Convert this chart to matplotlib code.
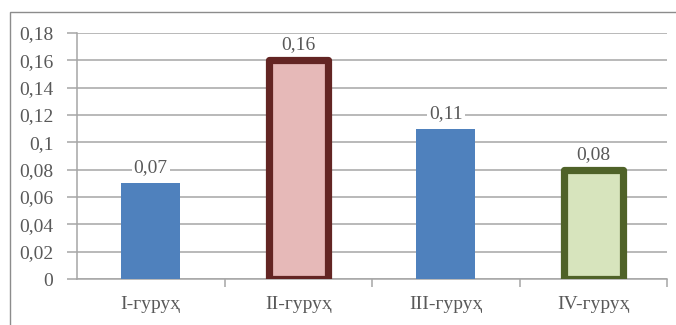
import matplotlib.pyplot as plt
from matplotlib.patches import Rectangle
from matplotlib.ticker import FuncFormatter

# Data
groups = ['I-гуруҳ', 'II-гуруҳ', 'III-гуруҳ', 'IV-гуруҳ']
values = [0.07, 0.16, 0.11, 0.08]
face_colors = ['#4F81BD', '#E6B9B8', '#4F81BD', '#D7E4BD']
edge_colors = ['#4F81BD', '#632523', '#4F81BD', '#4F6228']
edge_widths = [0, 5.2, 0, 5.2]
yticks = [0, 0.02, 0.04, 0.06, 0.08, 0.1, 0.12, 0.14, 0.16, 0.18]

text_color = '#595959'
grid_color = '#A6A6A6'

plt.rcParams['font.family'] = ['Liberation Serif', 'DejaVu Serif']

fig = plt.figure(figsize=(6.76, 3.25), dpi=100)
# outer chart border
fig.patches.append(Rectangle((10 / 676, -0.1), 1.0, 1.1 - 12 / 325,
                             transform=fig.transFigure, fill=False,
                             edgecolor='#8C8C8C', linewidth=1.0))

ax = fig.add_axes([77 / 676, 1 - 279 / 325, 590 / 676, 246 / 325])

x = range(len(groups))
for i, v in enumerate(values):
    ax.bar(i, v, width=0.4, color=face_colors[i], edgecolor=edge_colors[i],
           linewidth=edge_widths[i], zorder=3, joinstyle='round')
    label = f'{v:.2f}'.replace('.', ',')
    ax.annotate(label, (i, v), xytext=(0, 5), textcoords='offset points',
                ha='center', va='bottom', fontsize=14, color=text_color,
                bbox=dict(boxstyle='square,pad=0.1', fc='white', ec='none'),
                zorder=4)

ax.set_xlim(-0.5, len(groups) - 0.5)
ax.set_ylim(0, 0.18)
ax.set_yticks(yticks)
ax.yaxis.set_major_formatter(FuncFormatter(
    lambda v, p: '0' if v == 0 else f'{v:.2f}'.rstrip('0').replace('.', ',')))
ax.yaxis.grid(True, color=grid_color, linewidth=1.1, zorder=0)

ax.set_xticks([i for i in x])
ax.set_xticklabels(groups)
ax.set_xticks([i + 0.5 for i in x], minor=True)
ax.tick_params(axis='x', which='major', length=0, pad=12,
               labelsize=14, labelcolor=text_color)
ax.tick_params(axis='x', which='minor', length=6, color=grid_color, width=1.1)
ax.tick_params(axis='y', length=7, color=grid_color, width=1.1, pad=10,
               labelsize=14, labelcolor=text_color)

for side in ['top', 'right']:
    ax.spines[side].set_visible(False)
for side in ['left', 'bottom']:
    ax.spines[side].set_color(grid_color)
    ax.spines[side].set_linewidth(1.1)

fig.savefig('out.png', dpi=100)
